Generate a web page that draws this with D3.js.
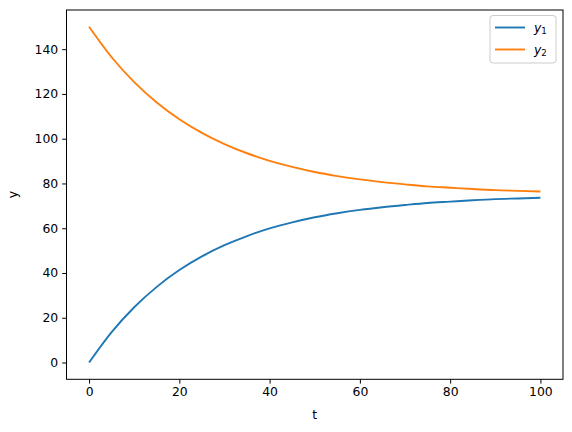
<!DOCTYPE html>
<html><head><meta charset="utf-8">
<script src="https://cdn.jsdelivr.net/npm/d3@7"></script>
<style>body{margin:0;background:#fff}svg{display:block}text{font-family:"DejaVu Sans",sans-serif}</style>
</head><body><div id="chart"></div>
<script>
const tValues = [0,5,10,15,20,25,30,35,40,45,50,55,60,65,70,75,80,85,90,95,100];
const y1Values = [0,13.6,24.7,33.8,41.3,47.4,52.4,56.5,59.9,62.6,64.9,66.7,68.2,69.4,70.4,71.3,71.9,72.5,73.0,73.3,73.6];
const y2Values = [150,136.4,125.3,116.2,108.7,102.6,97.6,93.5,90.1,87.4,85.1,83.3,81.8,80.6,79.6,78.7,78.1,77.5,77.0,76.7,76.4];
const xTicks = [0,20,40,60,80,100];
const yTicks = [0,20,40,60,80,100,120,140];
const seriesNames = ["y1","y2"];
const colors = ["#1f77b4","#ff7f0e"];

const W=572,H=432;
const m={left:66.5,right:W-563,top:10,bottom:H-379.3};
const svg=d3.select("#chart").append("svg").attr("width",W).attr("height",H);
const x=d3.scaleLinear().domain([-5,105]).range([m.left,W-m.right]);
const y=d3.scaleLinear().domain([-7.5,157.5]).range([H-m.bottom,m.top]);
const fs=12.4;

const gx=svg.append("g").attr("transform",`translate(0,${H-m.bottom})`)
  .call(d3.axisBottom(x).tickValues(xTicks).tickSize(4.3).tickPadding(4).tickFormat(d3.format("d")));
const gy=svg.append("g").attr("transform",`translate(${m.left},0)`)
  .call(d3.axisLeft(y).tickValues(yTicks).tickSize(4.3).tickPadding(4).tickFormat(d3.format("d")));
[gx,gy].forEach(g=>{g.select(".domain").remove();g.selectAll("text").attr("font-size",fs).attr("fill","#000").style("font-family","DejaVu Sans");g.selectAll("line").attr("stroke","#000").attr("stroke-width",1);});

const series=[y1Values,y2Values];
const line=d3.line().x((d,i)=>x(tValues[i])).y(d=>y(d)).curve(d3.curveMonotoneX);
series.forEach((s,i)=>svg.append("path").datum(s).attr("d",line).attr("fill","none").attr("stroke",colors[i]).attr("stroke-width",1.9));

svg.append("rect").attr("x",m.left).attr("y",m.top).attr("width",W-m.right-m.left).attr("height",H-m.bottom-m.top)
  .attr("fill","none").attr("stroke","#000").attr("stroke-width",1);

svg.append("text").attr("x",(m.left+W-m.right)/2).attr("y",419).attr("text-anchor","middle").attr("font-size",fs).text("t");
svg.append("text").attr("transform",`translate(17,${(m.top+H-m.bottom)/2}) rotate(-90)`).attr("text-anchor","middle").attr("font-size",fs).text("y");

// legend
const lg=svg.append("g");
lg.append("rect").attr("x",490).attr("y",15.5).attr("width",66).attr("height",47.5).attr("rx",3)
  .attr("fill","#fff").attr("fill-opacity",0.8).attr("stroke","#ccc").attr("stroke-width",1);
seriesNames.forEach((n,i)=>{
  const yy=27.5+i*22;
  lg.append("line").attr("x1",495).attr("x2",525).attr("y1",yy).attr("y2",yy).attr("stroke",colors[i]).attr("stroke-width",1.9);
  const t=lg.append("text").attr("x",534).attr("y",yy+4.5).attr("font-size",fs);
  t.append("tspan").attr("font-style","italic").text(n[0]);
  t.append("tspan").attr("font-size",fs*0.7).attr("dy",2).text(n.slice(1));
});
</script></body></html>
